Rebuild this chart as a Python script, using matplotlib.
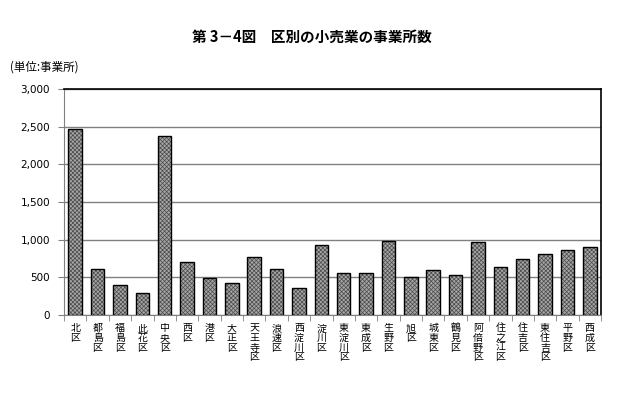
import matplotlib
matplotlib.use("Agg")
import matplotlib.pyplot as plt
import numpy as np

plt.rcParams['font.family'] = ['Noto Sans CJK JP', 'DejaVu Sans']
plt.rcParams['hatch.linewidth'] = 0.5

wards = ["北区", "都島区", "福島区", "此花区", "中央区", "西区", "港区", "大正区",
         "天王寺区", "浪速区", "西淀川区", "淀川区", "東淀川区", "東成区", "生野区",
         "旭区", "城東区", "鶴見区", "阿倍野区", "住之江区", "住吉区", "東住吉区",
         "平野区", "西成区"]
counts = [2468, 607, 394, 288, 2375, 700, 487, 421,
          766, 607, 354, 930, 554, 554, 979,
          500, 594, 527, 966, 633, 740, 811,
          859, 899]
yticks = [0, 500, 1000, 1500, 2000, 2500, 3000]

fig = plt.figure(figsize=(6.23, 3.97), dpi=100)
ax = fig.add_axes([64/623, 1-315/397, (601-64)/623, (315-89)/397])

x = np.arange(len(wards))
# textured fill
ax.bar(x, counts, width=0.6, color='#a6a6a6', edgecolor='#4a4a4a', linewidth=0,
       hatch='xxxxxxxx', zorder=3)
# outline
ax.bar(x, counts, width=0.6, fill=False, edgecolor='black', linewidth=1.0, zorder=4)

ax.set_xlim(-0.5, len(wards)-0.5)
ax.set_ylim(0, 3000)
ax.set_yticks(yticks)
ax.set_yticklabels([f"{v:,}" for v in yticks], fontsize=7.5, family='DejaVu Sans')
ax.yaxis.grid(True, color='#808080', linewidth=1.0, zorder=0)
ax.set_axisbelow(True)

ax.set_xticks(x)
ax.set_xticklabels(["\n".join(w) for w in wards], fontsize=7.2, linespacing=0.95,
                   va='top')
ax.set_xticks(np.arange(-0.5, len(wards)), minor=True)
ax.tick_params(axis='x', which='major', length=0, pad=6)
ax.tick_params(axis='x', which='minor', length=4, color='#808080', direction='out')
ax.tick_params(axis='y', length=4, color='#808080', direction='out', pad=6)

for s in ['left', 'bottom']:
    ax.spines[s].set_color('#808080')
for s in ['top', 'right']:
    ax.spines[s].set_color('black')
    ax.spines[s].set_linewidth(1.2)

fig.text(312/623, 1-37/397, "第 3－4図　区別の小売業の事業所数", ha='center', va='center',
         fontsize=10.5, fontweight='bold')
fig.text(10/623, 1-67/397, "(単位:事業所)", ha='left', va='center', fontsize=8.3)

fig.savefig("out.png", dpi=100)
